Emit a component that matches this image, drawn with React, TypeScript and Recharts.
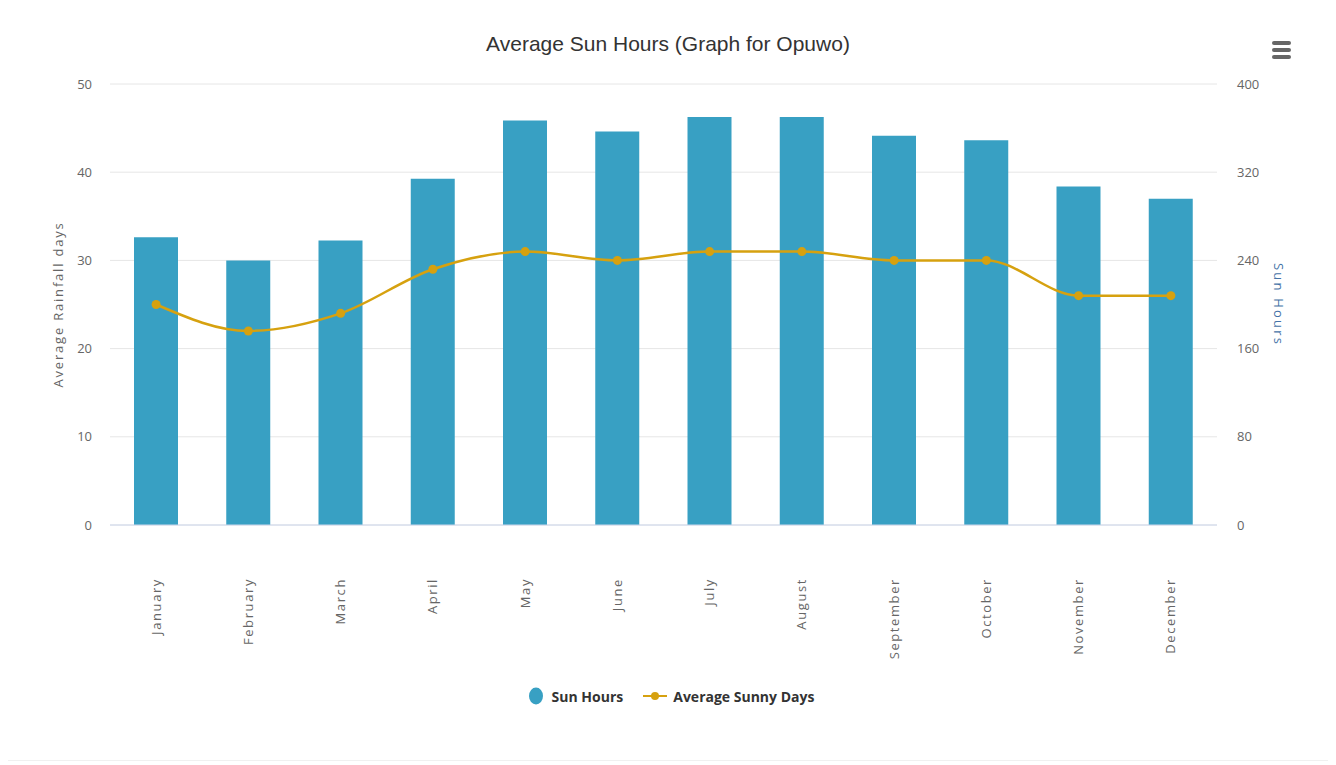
import React from "react";
import {
  ComposedChart,
  Bar,
  Line,
  XAxis,
  YAxis,
  CartesianGrid,
  Legend,
} from "recharts";

const months = [
  "January", "February", "March", "April", "May", "June",
  "July", "August", "September", "October", "November", "December",
];
const sunHours = [261, 240, 258, 314, 367, 357, 370, 370, 353, 349, 307, 296];
const sunnyDays = [25, 22, 24, 29, 31, 30, 31, 31, 30, 30, 26, 26];
const leftTicks = [0, 10, 20, 30, 40, 50];
const rightTicks = [0, 80, 160, 240, 320, 400];

const data = months.map((m, i) => ({
  month: m,
  sun: sunHours[i],
  days: sunnyDays[i],
}));

const BAR_COLOR = "#38a0c3";
const LINE_COLOR = "#d6a10f";
const TICK_FONT = "'Open Sans', sans-serif";

const MonthTick = (props: any) => {
  const { x, y, payload } = props;
  return (
    <text
      x={x}
      y={y}
      transform={`rotate(-90, ${x}, ${y})`}
      textAnchor="end"
      dy="0.35em"
      fill="#666"
      fontSize={13}
      fontFamily={TICK_FONT}
      letterSpacing={1.6}
    >
      {payload.value}
    </text>
  );
};

const LegendContent = () => (
  <div
    style={{
      display: "flex",
      justifyContent: "center",
      alignItems: "center",
      height: 24,
      fontFamily: "'Open Sans', sans-serif",
      fontWeight: 700,
      fontSize: 14,
      color: "#333",
      paddingRight: 2,
    }}
  >
    <svg width={16} height={18} style={{ marginRight: 8 }}>
      <ellipse cx={8} cy={9} rx={7} ry={8.5} fill={BAR_COLOR} />
    </svg>
    <span style={{ marginRight: 20 }}>Sun Hours</span>
    <svg width={24} height={16} style={{ marginRight: 6 }}>
      <line x1={0} y1={8} x2={24} y2={8} stroke={LINE_COLOR} strokeWidth={2} />
      <circle cx={12} cy={8} r={4} fill={LINE_COLOR} />
    </svg>
    <span>Average Sunny Days</span>
  </div>
);

export default function App() {
  return (
    <div
      style={{
        position: "relative",
        width: 1328,
        height: 753,
        borderLeft: "1px solid #e6e6e6",
        borderBottom: "1px solid #f0f0f0",
        boxSizing: "border-box",
        marginLeft: -1,
        background: "#fff",
      }}
    >
      <div
        style={{
          position: "absolute",
          left: 0,
          width: 1320,
          top: 24,
          textAlign: "center",
          fontFamily: "'Liberation Sans', Arial, sans-serif",
          fontSize: 21,
          color: "#333",
        }}
      >
        Average Sun Hours (Graph for Opuwo)
      </div>
      <svg
        width={20}
        height={20}
        style={{ position: "absolute", left: 1264, top: 32 }}
      >
        <rect x={0} y={1} width={19} height={4} rx={2} fill="#666" />
        <rect x={0} y={8} width={19} height={4} rx={2} fill="#666" />
        <rect x={0} y={15} width={19} height={4} rx={2} fill="#666" />
      </svg>
      <ComposedChart
        width={1328}
        height={757}
        data={data}
        margin={{ top: 76, right: 0, bottom: 57, left: 0 }}
        barCategoryGap={0}
      >
        <CartesianGrid
          vertical={false}
          stroke="#e6e6e6"
          yAxisId="left"
        />
        <XAxis
          dataKey="month"
          xAxisId={0}
          height={159}
          axisLine={{ stroke: "#ccd6eb" }}
          tickLine={false}
          tickSize={0}
          tickMargin={53}
          interval={0}
          tick={<MonthTick />}
        />
        <YAxis
          yAxisId="left"
          orientation="left"
          width={102}
          domain={[0, 50]}
          ticks={leftTicks}
          axisLine={false}
          tickLine={false}
          tickSize={0}
          tickMargin={18}
          tick={{ fill: "#666", fontSize: 13, fontFamily: TICK_FONT }}
          label={{
            value: "Average Rainfall days",
            angle: -90,
            position: "insideLeft",
            offset: 50,
            style: {
              textAnchor: "middle",
              fill: "#666",
              fontSize: 13,
              fontFamily: TICK_FONT,
              letterSpacing: 1.8,
            },
          }}
        />
        <YAxis
          yAxisId="right"
          orientation="right"
          width={119}
          domain={[0, 400]}
          ticks={rightTicks}
          axisLine={false}
          tickLine={false}
          tickSize={0}
          tickMargin={20}
          tick={{ fill: "#666", fontSize: 13, fontFamily: TICK_FONT }}
          label={{
            value: "Sun Hours",
            angle: 90,
            position: "insideRight",
            offset: 57,
            style: {
              textAnchor: "middle",
              fill: "#4572a7",
              fontSize: 13,
              fontFamily: TICK_FONT,
              letterSpacing: 2.2,
            },
          }}
        />
        <Legend
          verticalAlign="bottom"
          height={24}
          content={<LegendContent />}
        />
        <Bar
          yAxisId="right"
          dataKey="sun"
          name="Sun Hours"
          fill={BAR_COLOR}
          barSize={44}
          isAnimationActive={false}
        />
        <Line
          yAxisId="left"
          type="monotone"
          dataKey="days"
          name="Average Sunny Days"
          stroke={LINE_COLOR}
          strokeWidth={2.5}
          dot={{ r: 4.5, fill: LINE_COLOR, stroke: LINE_COLOR, strokeWidth: 0 }}
          activeDot={false}
          isAnimationActive={false}
        />
      </ComposedChart>
    </div>
  );
}
